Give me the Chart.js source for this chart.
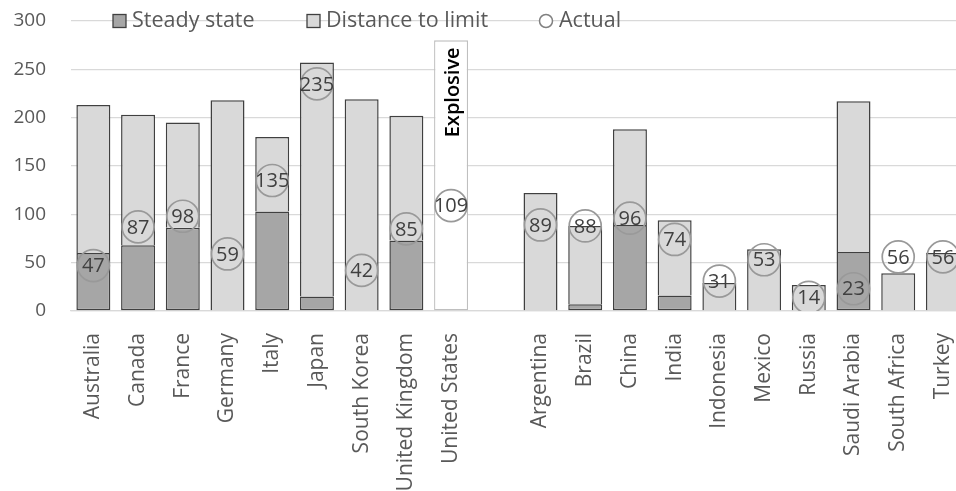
<!DOCTYPE html>
<html>
<head>
<meta charset="utf-8">
<script src="https://cdn.jsdelivr.net/npm/chart.js@4/dist/chart.umd.min.js"></script>
<style>
html,body{margin:0;padding:0;background:#fff;overflow:hidden;}
#wrap{width:983px;height:491px;position:relative;}
</style>
</head>
<body>
<div id="wrap"><canvas id="c"></canvas></div>
<script>
const categories = ["Australia","Canada","France","Germany","Italy","Japan","South Korea","United Kingdom","United States","",
  "Argentina","Brazil","China","India","Indonesia","Mexico","Russia","Saudi Arabia","South Africa","Turkey"];
const steadyState = [60,68,86,null,103,15,null,73,null,null, null,7,89,16,null,null,null,61,null,null];
const distanceToLimit = [153,135,109,218,77,242,219,129,null,null, 122,81,99,78,29,64,27,156,39,60];
const explosive = [null,null,null,null,null,null,null,null,280,null, null,null,null,null,null,null,null,null,null,null];
const actual = [47,87,98,59,135,235,42,85,109,null, 89,88,96,74,31,53,14,23,56,56];
const yTicks = [0,50,100,150,200,250,300];
const explosiveLabel = "Explosive";

const FONT = "'Open Sans', 'Liberation Sans', sans-serif";
Chart.defaults.font.family = FONT;
Chart.defaults.color = '#595959';

const DARK = '#a6a6a6', LIGHT = '#d9d9d9', EDGE = '#404040';

const labelPlugin = {
  id: 'circleLabels',
  afterDatasetsDraw(chart) {
    const ctx = chart.ctx;
    const meta = chart.getDatasetMeta(3);
    ctx.save();
    ctx.font = "20px " + FONT;
    ctx.fillStyle = '#404040';
    ctx.textAlign = 'center';
    ctx.textBaseline = 'middle';
    meta.data.forEach((pt, i) => {
      if (actual[i] == null) return;
      ctx.fillText(String(actual[i]), pt.x, pt.y + 1);
    });
    const bmeta = chart.getDatasetMeta(2);
    const idx = explosive.findIndex(v => v != null);
    const bar = bmeta.data[idx];
    ctx.translate(bar.x + 1, bar.y + 52);
    ctx.rotate(-Math.PI / 2);
    ctx.font = "600 20px " + FONT;
    ctx.fillStyle = '#000';
    ctx.fillText(explosiveLabel, 0, 1);
    ctx.restore();
  }
};

const legendPlugin = {
  id: 'customLegend',
  afterDraw(chart) {
    const ctx = chart.ctx;
    const y = chart.scales.y.getPixelForValue(300);
    ctx.save();
    ctx.font = "21.5px " + FONT;
    ctx.textBaseline = 'middle';
    ctx.textAlign = 'left';
    ctx.lineWidth = 1.3;
    ctx.strokeStyle = EDGE;
    ctx.fillStyle = DARK; ctx.fillRect(113, y - 6.5, 13, 13); ctx.strokeRect(113, y - 6.5, 13, 13);
    ctx.fillStyle = '#595959'; ctx.fillText('Steady state', 132, y);
    ctx.fillStyle = LIGHT; ctx.fillRect(307, y - 6.5, 13, 13); ctx.strokeRect(307, y - 6.5, 13, 13);
    ctx.fillStyle = '#595959'; ctx.fillText('Distance to limit', 326, y);
    ctx.beginPath(); ctx.arc(546, y, 6.5, 0, Math.PI * 2); ctx.fillStyle = '#fff'; ctx.fill();
    ctx.strokeStyle = '#808080'; ctx.lineWidth = 1.5; ctx.stroke();
    ctx.fillStyle = '#595959'; ctx.fillText('Actual', 559, y);
    ctx.restore();
  }
};

new Chart(document.getElementById('c'), {
  data: {
    labels: categories,
    datasets: [
      { type: 'bar', label: 'Steady state', data: steadyState, backgroundColor: DARK, borderColor: EDGE, borderWidth: 1.5, borderSkipped: false, stack: 's', order: 2 },
      { type: 'bar', label: 'Distance to limit', data: distanceToLimit, backgroundColor: LIGHT, borderColor: EDGE, borderWidth: { top: 1.5, left: 1.5, right: 1.5, bottom: 0 }, borderSkipped: false, stack: 's', order: 2 },
      { type: 'bar', label: 'Explosive', data: explosive, backgroundColor: '#ffffff', borderColor: '#bfbfbf', borderWidth: 1.3, borderSkipped: false, stack: 's', order: 2 },
      { type: 'line', label: 'Actual', data: actual, showLine: false, pointRadius: 16, pointHoverRadius: 16, pointBorderWidth: 1.7, pointBorderColor: '#999999', pointBackgroundColor: 'rgba(255,255,255,0)', order: 0 }
    ]
  },
  options: {
    responsive: true,
    maintainAspectRatio: false,
    animation: false,
    events: [],
    layout: { padding: { top: 21, left: 0, right: 0, bottom: 0 } },
    datasets: { bar: { categoryPercentage: 1.0, barPercentage: 0.76 } },
    plugins: { legend: { display: false }, tooltip: { enabled: false } },
    scales: {
      x: {
        stacked: true,
        grid: { display: false },
        border: { color: LIGHT, width: 1.3 },
        ticks: { autoSkip: false, maxRotation: 90, minRotation: 90, padding: 14, font: { size: 21 }, color: '#595959' },
        afterFit(s) { s.height = 180; s.paddingLeft = 0; s.paddingRight = 0; }
      },
      y: {
        stacked: true,
        min: 0, max: 300,
        afterBuildTicks(s) { s.ticks = yTicks.map(v => ({ value: v })); },
        grid: { color: LIGHT, lineWidth: 1.3, drawTicks: false },
        border: { display: false },
        ticks: { padding: 25, font: { size: 19 }, color: '#595959' },
        afterFit(s) { s.width = 71; s.paddingTop = 0; s.paddingBottom = 0; }
      }
    }
  },
  plugins: [labelPlugin, legendPlugin]
});
</script>
</body>
</html>
